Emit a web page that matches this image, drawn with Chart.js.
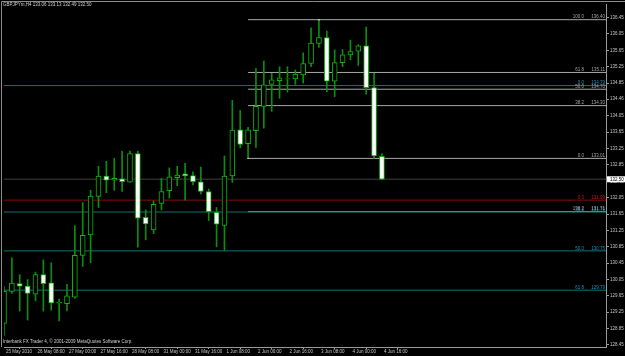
<!DOCTYPE html>
<html>
<head>
<meta charset="utf-8">
<script src="https://cdn.jsdelivr.net/npm/chart.js@4.4.1/dist/chart.umd.min.js"></script>
<style>
  html, body { margin: 0; padding: 0; background: #000; }
  canvas { display: block; }
</style>
</head>
<body>
<canvas id="chart" width="625" height="356"></canvas>
<script>
const symbolTitle = "GBPJPYm,H4 133.06 133.13 132.49 132.50";
const copyright = "Interbank FX Trader 4, \u00a9 2001-2009 MetaQuotes Software Corp.";

// H4 bars, index 0 = 26 May 08:00
const barIndex = [-4, -3, -2, -1, 0, 1, 2, 3, 4, 5, 6, 7, 8, 9, 10, 11, 12, 13, 14, 15, 16, 17, 18, 19,
  20, 21, 22, 23, 24, 25, 26, 27, 28, 29, 30, 31, 32, 33, 34, 35, 36, 37, 38, 39, 40, 41, 42, 43, 44];
const opens = [128.98, 129.76, 129.95, 129.89, 129.69, 130.17, 129.97, 129.47, 129.46, 129.62, 130.64, 131.14,
  132.08, 132.58, 132.48, 132.51, 132.43, 133.13, 131.57, 131.26, 131.91, 132.22, 132.54, 132.63,
  132.59, 132.44, 132.20, 131.69, 131.37, 132.58, 133.71, 133.37, 133.69, 134.28, 134.82, 134.91,
  134.95, 134.95, 135.05, 135.33, 135.82, 135.96, 134.90, 135.35, 135.54, 135.63, 135.76, 134.74, 133.06];
const highs = [129.88, 130.58, 130.17, 130.05, 130.23, 130.53, 130.46, 129.57, 129.93, 131.37, 131.93, 132.23,
  132.82, 132.94, 133.01, 133.19, 133.19, 133.19, 131.75, 131.97, 132.52, 132.78, 132.82, 132.89,
  132.68, 132.80, 132.26, 131.81, 133.07, 134.43, 134.18, 133.77, 135.21, 135.39, 135.09, 135.25,
  135.25, 135.17, 135.59, 136.20, 136.40, 136.12, 135.66, 135.67, 135.90, 135.79, 136.22, 135.09, 133.13];
const lows = [128.69, 129.71, 129.28, 129.06, 129.53, 129.28, 129.30, 129.04, 129.28, 129.59, 130.37, 130.46,
  131.81, 132.17, 132.23, 132.20, 132.42, 130.84, 131.02, 131.17, 131.75, 132.04, 132.34, 131.99,
  132.36, 132.14, 131.49, 130.85, 130.76, 132.42, 133.27, 133.01, 133.28, 133.75, 134.16, 134.48,
  134.63, 134.82, 134.85, 135.25, 135.72, 134.64, 134.52, 135.25, 135.42, 135.28, 134.58, 133.01, 132.49];
const closes = [129.76, 129.96, 129.89, 129.71, 130.17, 129.95, 129.48, 129.49, 129.65, 130.64, 131.13, 132.09,
  132.58, 132.48, 132.52, 132.44, 133.13, 131.55, 131.41, 131.89, 132.20, 132.56, 132.60, 132.58,
  132.44, 132.20, 131.71, 131.40, 132.58, 133.70, 133.35, 133.71, 134.28, 134.81, 134.93, 134.98,
  134.96, 135.07, 135.33, 135.83, 135.96, 134.90, 135.35, 135.54, 135.62, 135.76, 134.74, 133.07, 132.50];

const xTickBars = [-4, 0, 4, 8, 12, 16, 20, 24, 28, 32, 36, 40, 44];
const xTickLabels = ["25 May 2010", "26 May 08:00", "27 May 00:00", "27 May 16:00", "28 May 08:00",
  "31 May 00:00", "31 May 16:00", "1 Jun 08:00", "2 Jun 00:00", "2 Jun 16:00", "3 Jun 08:00",
  "4 Jun 00:00", "4 Jun 16:00"];
const yTickLabels = ["136.45", "136.05", "135.65", "135.25", "134.85", "134.46", "134.05", "133.65",
  "133.25", "132.85", "132.45", "132.05", "131.65", "131.25", "130.85", "130.45", "130.05", "129.65",
  "129.25", "128.85", "128.45"];

// fibonacci objects
const grayFibStart = 27;
const grayFibNames = ["100.0", "61.8", "50.0", "38.2", "0.0", "138.2"];
const grayFibLevels = [136.40, 135.11, 134.70, 134.30, 133.01, 131.71];
const cyanFibNames = ["0.0", "38.2", "50.0", "61.8"];
const cyanFibLevels = [134.79, 131.70, 130.75, 129.79];
const redFibNames = ["0.0"];
const redFibLevels = [131.99];
const anchorBars = [27, 36];
const anchorPrices = [133.01, 136.40];

const xMin = -4, xMax = 72.46;
const yMin = 128.401, yMax = 136.783;
const font = { family: "'Liberation Sans', Arial, sans-serif", size: 4.5 };

const bull = i => closes[i] >= opens[i];

function levelLine(value, from, color, width) {
  return {
    type: "line",
    data: [{ x: from, y: value }, { x: xMax, y: value }],
    borderColor: color,
    borderWidth: width,
    pointRadius: 0,
    order: 5
  };
}

const datasets = [
  {
    label: "bodies",
    data: barIndex.map((k, i) => ({ x: k, y: [Math.min(opens[i], closes[i]), Math.max(opens[i], closes[i])] })),
    backgroundColor: ctx => bull(ctx.dataIndex) ? "#000000" : "#ffffff",
    borderColor: "#10b410",
    borderWidth: 1,
    borderSkipped: false,
    barThickness: 5,
    grouped: false,
    order: 0
  },
  {
    label: "wicks",
    data: barIndex.map((k, i) => ({ x: k, y: [lows[i], highs[i]] })),
    backgroundColor: "#0c8e0c",
    borderWidth: 0,
    barThickness: 1,
    grouped: false,
    order: 1
  },
  {
    type: "line",
    label: "anchors",
    data: anchorBars.map((k, i) => ({ x: k, y: anchorPrices[i] })),
    showLine: false,
    pointStyle: "rect",
    pointRadius: 1,
    pointBackgroundColor: "#e0e0e0",
    pointBorderWidth: 0,
    order: -1
  },
  levelLine(closes[closes.length - 1], xMin, "#2c2c2c", 1.5)
];
cyanFibLevels.forEach(v => datasets.push(levelLine(v, xMin, "#107272", 1)));
redFibLevels.forEach(v => datasets.push(levelLine(v, xMin, "#8a0c0c", 1)));
grayFibLevels.forEach(v => datasets.push(levelLine(v, grayFibStart, "#a8a8a8", 1)));

const textPlugin = {
  id: "mtText",
  afterDraw(chart) {
    const c = chart.ctx, a = chart.chartArea, y = chart.scales.y;
    c.save();
    // window frame
    c.strokeStyle = "#8c8c8c";
    c.lineWidth = 1;
    c.beginPath();
    c.moveTo(1.5, a.bottom); c.lineTo(1.5, 1.5); c.lineTo(chart.width, 1.5);
    c.stroke();

    c.font = font.size + "px " + font.family;
    c.textBaseline = "alphabetic";
    const labels = (names, levels, color) => {
      c.fillStyle = color;
      levels.forEach((v, i) => {
        const py = y.getPixelForValue(v) - 1.2;
        c.textAlign = "right";
        c.fillText(names[i], a.right - 22, py);
        c.fillText(v.toFixed(2), a.right - 1, py);
      });
    };
    labels(cyanFibNames, cyanFibLevels, "#1c8fc2");
    labels(redFibNames, redFibLevels, "#d01515");
    labels(grayFibNames, grayFibLevels, "#a4a4a4");

    c.textAlign = "left";
    c.textBaseline = "middle";
    c.fillStyle = "#d0d0d0";
    c.fillText(symbolTitle, 3, 4.8);
    c.fillText(copyright, 3, 341.8);

    // current price tag
    const last = closes[closes.length - 1];
    const py = y.getPixelForValue(last);
    c.fillStyle = "#ffffff";
    c.fillRect(a.right + 1, py - 3, chart.width - a.right - 1, 6);
    c.fillStyle = "#000000";
    c.fillText(last.toFixed(2), a.right + 4, py + 0.2);
    c.restore();
  }
};

new Chart(document.getElementById("chart"), {
  type: "bar",
  data: { datasets },
  options: {
    responsive: false,
    devicePixelRatio: 1,
    animation: false,
    layout: { padding: { left: 2, top: 2, right: 0, bottom: 0 } },
    plugins: { legend: { display: false }, tooltip: { enabled: false } },
    scales: {
      x: {
        type: "linear",
        min: xMin,
        max: xMax,
        offset: false,
        afterBuildTicks: s => { s.ticks = xTickBars.map(v => ({ value: v })); },
        afterFit: s => { s.height = 9; },
        ticks: {
          autoSkip: false,
          maxRotation: 0,
          align: "start",
          labelOffset: 2,
          padding: 0,
          color: "#c4c4c4",
          font,
          callback: (v) => xTickLabels[xTickBars.indexOf(v)]
        },
        grid: { drawOnChartArea: false, drawTicks: true, tickLength: 2, color: "#9a9a9a" },
        border: { display: true, color: "#9a9a9a" }
      },
      y: {
        position: "right",
        min: yMin,
        max: yMax,
        afterBuildTicks: s => { s.ticks = yTickLabels.map(t => ({ value: Number(t) })); },
        afterFit: s => { s.width = 19; },
        ticks: {
          autoSkip: false,
          padding: 1,
          color: "#c4c4c4",
          font,
          callback: (v, i) => yTickLabels[i]
        },
        grid: { drawOnChartArea: false, drawTicks: true, tickLength: 3, color: "#9a9a9a" },
        border: { display: true, color: "#9a9a9a" }
      }
    }
  },
  plugins: [textPlugin]
});
</script>
</body>
</html>
